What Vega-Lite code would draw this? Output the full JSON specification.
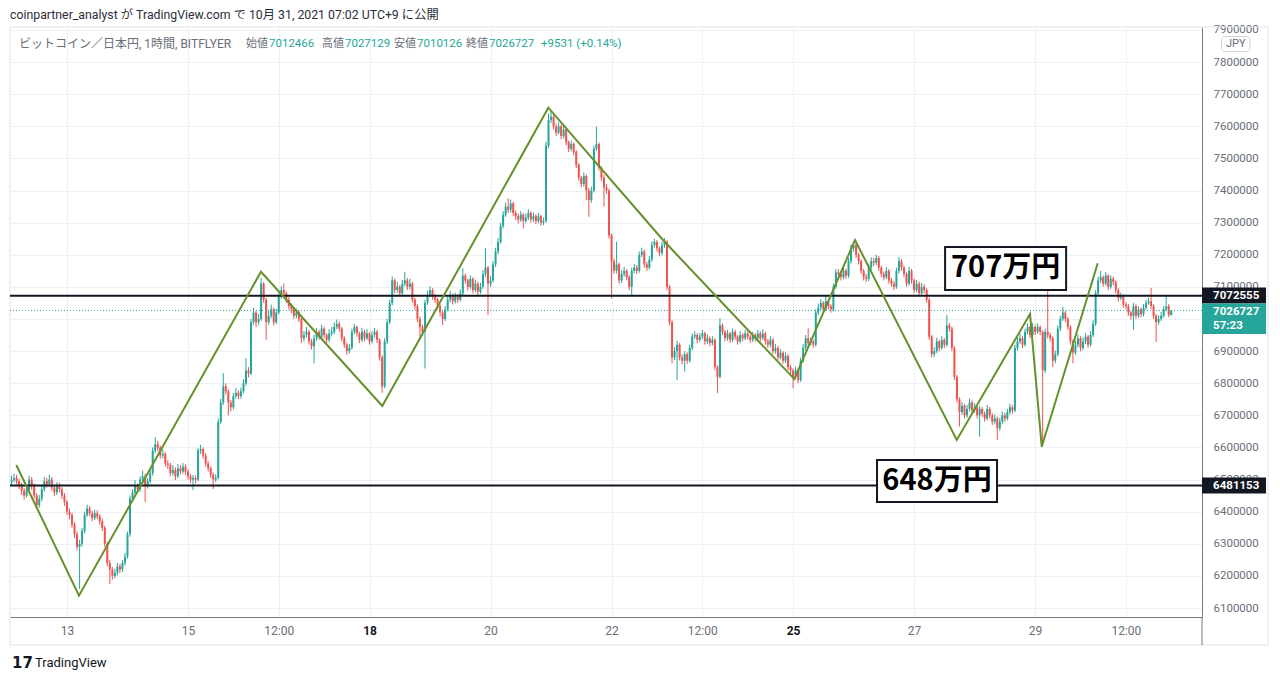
{
  "$schema": "https://vega.github.io/schema/vega-lite/v6.json",
  "width": 1192,
  "height": 590,
  "autosize": {"type": "none"},
  "padding": {"left": 10, "top": 27, "right": 78, "bottom": 64},
  "background": "#ffffff",
  "config": {"view": {"stroke": null}, "font": "Roboto, 'Noto Sans CJK JP', sans-serif"},
  "title": {"text": "coinpartner_analyst が TradingView.com で 10月 31, 2021 07:02 UTC+9 に公開", "anchor": "start", "frame": "group", "fontSize": 12.3, "fontWeight": "normal", "color": "#2a2e39", "offset": 3},
  "resolve": {"axis": {"x": "independent", "y": "independent"}},
  "datasets": {
    "candles": [
      {"t":-22,"o":6490000,"h":6512000,"l":6482000,"c":6500000},
      {"t":-21,"o":6500000,"h":6518000,"l":6492000,"c":6505000},
      {"t":-20,"o":6505000,"h":6515000,"l":6485000,"c":6495000},
      {"t":-19,"o":6495000,"h":6503000,"l":6470000,"c":6480000},
      {"t":-18,"o":6480000,"h":6490000,"l":6452000,"c":6465000},
      {"t":-17,"o":6465000,"h":6474000,"l":6438000,"c":6450000},
      {"t":-16,"o":6450000,"h":6482000,"l":6444000,"c":6470000},
      {"t":-15,"o":6470000,"h":6512000,"l":6462000,"c":6500000},
      {"t":-14,"o":6500000,"h":6508000,"l":6468000,"c":6480000},
      {"t":-13,"o":6480000,"h":6488000,"l":6440000,"c":6450000},
      {"t":-12,"o":6450000,"h":6458000,"l":6410000,"c":6420000},
      {"t":-11,"o":6420000,"h":6452000,"l":6412000,"c":6440000},
      {"t":-10,"o":6440000,"h":6480000,"l":6432000,"c":6470000},
      {"t":-9,"o":6470000,"h":6508000,"l":6462000,"c":6495000},
      {"t":-8,"o":6495000,"h":6505000,"l":6475000,"c":6485000},
      {"t":-7,"o":6485000,"h":6515000,"l":6478000,"c":6500000},
      {"t":-6,"o":6500000,"h":6508000,"l":6466000,"c":6475000},
      {"t":-5,"o":6475000,"h":6483000,"l":6448000,"c":6460000},
      {"t":-4,"o":6460000,"h":6492000,"l":6452000,"c":6480000},
      {"t":-3,"o":6480000,"h":6490000,"l":6460000,"c":6470000},
      {"t":-2,"o":6470000,"h":6476000,"l":6440000,"c":6450000},
      {"t":-1,"o":6450000,"h":6458000,"l":6418000,"c":6430000},
      {"t":0,"o":6430000,"h":6436000,"l":6390000,"c":6400000},
      {"t":1,"o":6400000,"h":6410000,"l":6376000,"c":6390000},
      {"t":2,"o":6390000,"h":6396000,"l":6350000,"c":6360000},
      {"t":3,"o":6360000,"h":6368000,"l":6318000,"c":6330000},
      {"t":4,"o":6330000,"h":6338000,"l":6280000,"c":6290000},
      {"t":5,"o":6290000,"h":6312000,"l":6160000,"c":6300000},
      {"t":6,"o":6300000,"h":6350000,"l":6292000,"c":6340000},
      {"t":7,"o":6340000,"h":6400000,"l":6332000,"c":6390000},
      {"t":8,"o":6390000,"h":6422000,"l":6384000,"c":6410000},
      {"t":9,"o":6410000,"h":6418000,"l":6386000,"c":6395000},
      {"t":10,"o":6395000,"h":6402000,"l":6370000,"c":6380000},
      {"t":11,"o":6380000,"h":6406000,"l":6374000,"c":6395000},
      {"t":12,"o":6395000,"h":6404000,"l":6376000,"c":6385000},
      {"t":13,"o":6385000,"h":6392000,"l":6360000,"c":6370000},
      {"t":14,"o":6370000,"h":6378000,"l":6340000,"c":6350000},
      {"t":15,"o":6350000,"h":6356000,"l":6290000,"c":6300000},
      {"t":16,"o":6300000,"h":6306000,"l":6230000,"c":6240000},
      {"t":17,"o":6240000,"h":6250000,"l":6175000,"c":6220000},
      {"t":18,"o":6220000,"h":6228000,"l":6188000,"c":6200000},
      {"t":19,"o":6200000,"h":6222000,"l":6192000,"c":6210000},
      {"t":20,"o":6210000,"h":6240000,"l":6202000,"c":6230000},
      {"t":21,"o":6230000,"h":6238000,"l":6208000,"c":6220000},
      {"t":22,"o":6220000,"h":6250000,"l":6212000,"c":6240000},
      {"t":23,"o":6240000,"h":6272000,"l":6232000,"c":6260000},
      {"t":24,"o":6260000,"h":6338000,"l":6254000,"c":6330000},
      {"t":25,"o":6330000,"h":6450000,"l":6322000,"c":6440000},
      {"t":26,"o":6440000,"h":6470000,"l":6432000,"c":6460000},
      {"t":27,"o":6460000,"h":6498000,"l":6452000,"c":6480000},
      {"t":28,"o":6480000,"h":6488000,"l":6460000,"c":6470000},
      {"t":29,"o":6470000,"h":6510000,"l":6462000,"c":6500000},
      {"t":30,"o":6500000,"h":6528000,"l":6492000,"c":6510000},
      {"t":31,"o":6510000,"h":6518000,"l":6430000,"c":6480000},
      {"t":32,"o":6480000,"h":6505000,"l":6472000,"c":6495000},
      {"t":33,"o":6495000,"h":6530000,"l":6488000,"c":6520000},
      {"t":34,"o":6520000,"h":6600000,"l":6512000,"c":6590000},
      {"t":35,"o":6590000,"h":6632000,"l":6582000,"c":6610000},
      {"t":36,"o":6610000,"h":6620000,"l":6588000,"c":6600000},
      {"t":37,"o":6600000,"h":6606000,"l":6565000,"c":6575000},
      {"t":38,"o":6575000,"h":6594000,"l":6566000,"c":6580000},
      {"t":39,"o":6580000,"h":6586000,"l":6540000,"c":6550000},
      {"t":40,"o":6550000,"h":6560000,"l":6532000,"c":6545000},
      {"t":41,"o":6545000,"h":6552000,"l":6510000,"c":6520000},
      {"t":42,"o":6520000,"h":6545000,"l":6512000,"c":6530000},
      {"t":43,"o":6530000,"h":6538000,"l":6498000,"c":6510000},
      {"t":44,"o":6510000,"h":6548000,"l":6504000,"c":6535000},
      {"t":45,"o":6535000,"h":6545000,"l":6515000,"c":6525000},
      {"t":46,"o":6525000,"h":6552000,"l":6518000,"c":6540000},
      {"t":47,"o":6540000,"h":6548000,"l":6515000,"c":6525000},
      {"t":48,"o":6525000,"h":6532000,"l":6500000,"c":6510000},
      {"t":49,"o":6510000,"h":6518000,"l":6490000,"c":6500000},
      {"t":50,"o":6500000,"h":6514000,"l":6467000,"c":6505000},
      {"t":51,"o":6505000,"h":6512000,"l":6488000,"c":6500000},
      {"t":52,"o":6500000,"h":6598000,"l":6495000,"c":6590000},
      {"t":53,"o":6590000,"h":6608000,"l":6580000,"c":6595000},
      {"t":54,"o":6595000,"h":6600000,"l":6565000,"c":6575000},
      {"t":55,"o":6575000,"h":6582000,"l":6540000,"c":6550000},
      {"t":56,"o":6550000,"h":6558000,"l":6525000,"c":6535000},
      {"t":57,"o":6535000,"h":6540000,"l":6505000,"c":6515000},
      {"t":58,"o":6515000,"h":6522000,"l":6470000,"c":6500000},
      {"t":59,"o":6500000,"h":6516000,"l":6492000,"c":6505000},
      {"t":60,"o":6505000,"h":6690000,"l":6500000,"c":6680000},
      {"t":61,"o":6680000,"h":6752000,"l":6672000,"c":6740000},
      {"t":62,"o":6740000,"h":6831000,"l":6732000,"c":6790000},
      {"t":63,"o":6790000,"h":6800000,"l":6765000,"c":6775000},
      {"t":64,"o":6775000,"h":6780000,"l":6700000,"c":6740000},
      {"t":65,"o":6740000,"h":6748000,"l":6712000,"c":6725000},
      {"t":66,"o":6725000,"h":6770000,"l":6718000,"c":6760000},
      {"t":67,"o":6760000,"h":6785000,"l":6752000,"c":6770000},
      {"t":68,"o":6770000,"h":6778000,"l":6750000,"c":6760000},
      {"t":69,"o":6760000,"h":6786000,"l":6752000,"c":6775000},
      {"t":70,"o":6775000,"h":6812000,"l":6768000,"c":6800000},
      {"t":71,"o":6800000,"h":6878000,"l":6792000,"c":6840000},
      {"t":72,"o":6840000,"h":6850000,"l":6818000,"c":6830000},
      {"t":73,"o":6830000,"h":7000000,"l":6825000,"c":6990000},
      {"t":74,"o":6990000,"h":7035000,"l":6982000,"c":7020000},
      {"t":75,"o":7020000,"h":7026000,"l":6975000,"c":6990000},
      {"t":76,"o":6990000,"h":7015000,"l":6982000,"c":7000000},
      {"t":77,"o":7000000,"h":7128000,"l":6995000,"c":7110000},
      {"t":78,"o":7110000,"h":7115000,"l":7050000,"c":7060000},
      {"t":79,"o":7060000,"h":7066000,"l":6935000,"c":6990000},
      {"t":80,"o":6990000,"h":7025000,"l":6982000,"c":7010000},
      {"t":81,"o":7010000,"h":7045000,"l":7002000,"c":7030000},
      {"t":82,"o":7030000,"h":7036000,"l":6980000,"c":6990000},
      {"t":83,"o":6990000,"h":7032000,"l":6984000,"c":7020000},
      {"t":84,"o":7020000,"h":7080000,"l":7014000,"c":7070000},
      {"t":85,"o":7070000,"h":7102000,"l":7062000,"c":7090000},
      {"t":86,"o":7090000,"h":7110000,"l":7070000,"c":7080000},
      {"t":87,"o":7080000,"h":7086000,"l":7050000,"c":7060000},
      {"t":88,"o":7060000,"h":7068000,"l":7030000,"c":7040000},
      {"t":89,"o":7040000,"h":7048000,"l":7018000,"c":7030000},
      {"t":90,"o":7030000,"h":7036000,"l":7000000,"c":7010000},
      {"t":91,"o":7010000,"h":7032000,"l":7002000,"c":7020000},
      {"t":92,"o":7020000,"h":7028000,"l":6990000,"c":7000000},
      {"t":93,"o":7000000,"h":7005000,"l":6925000,"c":6940000},
      {"t":94,"o":6940000,"h":6962000,"l":6930000,"c":6950000},
      {"t":95,"o":6950000,"h":6975000,"l":6942000,"c":6960000},
      {"t":96,"o":6960000,"h":6966000,"l":6920000,"c":6930000},
      {"t":97,"o":6930000,"h":6938000,"l":6905000,"c":6915000},
      {"t":98,"o":6915000,"h":6950000,"l":6862000,"c":6940000},
      {"t":99,"o":6940000,"h":6972000,"l":6932000,"c":6960000},
      {"t":100,"o":6960000,"h":6966000,"l":6935000,"c":6945000},
      {"t":101,"o":6945000,"h":6982000,"l":6938000,"c":6970000},
      {"t":102,"o":6970000,"h":6976000,"l":6940000,"c":6950000},
      {"t":103,"o":6950000,"h":6956000,"l":6925000,"c":6935000},
      {"t":104,"o":6935000,"h":6968000,"l":6928000,"c":6955000},
      {"t":105,"o":6955000,"h":6975000,"l":6946000,"c":6960000},
      {"t":106,"o":6960000,"h":6990000,"l":6952000,"c":6975000},
      {"t":107,"o":6975000,"h":6998000,"l":6968000,"c":6985000},
      {"t":108,"o":6985000,"h":6992000,"l":6960000,"c":6970000},
      {"t":109,"o":6970000,"h":6975000,"l":6930000,"c":6940000},
      {"t":110,"o":6940000,"h":6946000,"l":6910000,"c":6920000},
      {"t":111,"o":6920000,"h":6926000,"l":6888000,"c":6900000},
      {"t":112,"o":6900000,"h":6922000,"l":6892000,"c":6910000},
      {"t":113,"o":6910000,"h":6970000,"l":6904000,"c":6960000},
      {"t":114,"o":6960000,"h":6985000,"l":6952000,"c":6975000},
      {"t":115,"o":6975000,"h":6980000,"l":6945000,"c":6955000},
      {"t":116,"o":6955000,"h":6960000,"l":6925000,"c":6935000},
      {"t":117,"o":6935000,"h":6972000,"l":6928000,"c":6960000},
      {"t":118,"o":6960000,"h":6966000,"l":6930000,"c":6940000},
      {"t":119,"o":6940000,"h":6968000,"l":6934000,"c":6955000},
      {"t":120,"o":6955000,"h":6960000,"l":6920000,"c":6930000},
      {"t":121,"o":6930000,"h":6962000,"l":6924000,"c":6950000},
      {"t":122,"o":6950000,"h":6972000,"l":6942000,"c":6960000},
      {"t":123,"o":6960000,"h":6966000,"l":6925000,"c":6935000},
      {"t":124,"o":6935000,"h":6940000,"l":6870000,"c":6880000},
      {"t":125,"o":6880000,"h":6886000,"l":6770000,"c":6790000},
      {"t":126,"o":6790000,"h":6940000,"l":6784000,"c":6930000},
      {"t":127,"o":6930000,"h":7000000,"l":6922000,"c":6990000},
      {"t":128,"o":6990000,"h":7060000,"l":6984000,"c":7050000},
      {"t":129,"o":7050000,"h":7132000,"l":7042000,"c":7120000},
      {"t":130,"o":7120000,"h":7126000,"l":7080000,"c":7090000},
      {"t":131,"o":7090000,"h":7115000,"l":7082000,"c":7100000},
      {"t":132,"o":7100000,"h":7106000,"l":7070000,"c":7080000},
      {"t":133,"o":7080000,"h":7122000,"l":7074000,"c":7110000},
      {"t":134,"o":7110000,"h":7147000,"l":7102000,"c":7120000},
      {"t":135,"o":7120000,"h":7128000,"l":7090000,"c":7100000},
      {"t":136,"o":7100000,"h":7125000,"l":7092000,"c":7110000},
      {"t":137,"o":7110000,"h":7116000,"l":7050000,"c":7060000},
      {"t":138,"o":7060000,"h":7066000,"l":7030000,"c":7040000},
      {"t":139,"o":7040000,"h":7046000,"l":6990000,"c":7000000},
      {"t":140,"o":7000000,"h":7008000,"l":6935000,"c":6975000},
      {"t":141,"o":6975000,"h":6982000,"l":6950000,"c":6960000},
      {"t":142,"o":6960000,"h":7060000,"l":6846000,"c":7050000},
      {"t":143,"o":7050000,"h":7088000,"l":7044000,"c":7075000},
      {"t":144,"o":7075000,"h":7102000,"l":7068000,"c":7090000},
      {"t":145,"o":7090000,"h":7096000,"l":7060000,"c":7070000},
      {"t":146,"o":7070000,"h":7078000,"l":7050000,"c":7060000},
      {"t":147,"o":7060000,"h":7066000,"l":7030000,"c":7040000},
      {"t":148,"o":7040000,"h":7046000,"l":7008000,"c":7020000},
      {"t":149,"o":7020000,"h":7026000,"l":6981000,"c":7000000},
      {"t":150,"o":7000000,"h":7040000,"l":6994000,"c":7030000},
      {"t":151,"o":7030000,"h":7070000,"l":7024000,"c":7060000},
      {"t":152,"o":7060000,"h":7088000,"l":7052000,"c":7075000},
      {"t":153,"o":7075000,"h":7080000,"l":7045000,"c":7055000},
      {"t":154,"o":7055000,"h":7082000,"l":7048000,"c":7070000},
      {"t":155,"o":7070000,"h":7078000,"l":7050000,"c":7060000},
      {"t":156,"o":7060000,"h":7092000,"l":7054000,"c":7080000},
      {"t":157,"o":7080000,"h":7158000,"l":7074000,"c":7135000},
      {"t":158,"o":7135000,"h":7142000,"l":7110000,"c":7120000},
      {"t":159,"o":7120000,"h":7126000,"l":7088000,"c":7100000},
      {"t":160,"o":7100000,"h":7136000,"l":7094000,"c":7125000},
      {"t":161,"o":7125000,"h":7130000,"l":7080000,"c":7090000},
      {"t":162,"o":7090000,"h":7122000,"l":7084000,"c":7110000},
      {"t":163,"o":7110000,"h":7116000,"l":7075000,"c":7085000},
      {"t":164,"o":7085000,"h":7112000,"l":7078000,"c":7100000},
      {"t":165,"o":7100000,"h":7152000,"l":7094000,"c":7140000},
      {"t":166,"o":7140000,"h":7220000,"l":7132000,"c":7160000},
      {"t":167,"o":7160000,"h":7165000,"l":7012000,"c":7110000},
      {"t":168,"o":7110000,"h":7134000,"l":7100000,"c":7120000},
      {"t":169,"o":7120000,"h":7180000,"l":7114000,"c":7170000},
      {"t":170,"o":7170000,"h":7222000,"l":7162000,"c":7210000},
      {"t":171,"o":7210000,"h":7252000,"l":7202000,"c":7240000},
      {"t":172,"o":7240000,"h":7300000,"l":7234000,"c":7290000},
      {"t":173,"o":7290000,"h":7336000,"l":7282000,"c":7325000},
      {"t":174,"o":7325000,"h":7362000,"l":7318000,"c":7350000},
      {"t":175,"o":7350000,"h":7376000,"l":7330000,"c":7340000},
      {"t":176,"o":7340000,"h":7372000,"l":7332000,"c":7360000},
      {"t":177,"o":7360000,"h":7365000,"l":7320000,"c":7330000},
      {"t":178,"o":7330000,"h":7338000,"l":7308000,"c":7320000},
      {"t":179,"o":7320000,"h":7328000,"l":7298000,"c":7310000},
      {"t":180,"o":7310000,"h":7336000,"l":7302000,"c":7325000},
      {"t":181,"o":7325000,"h":7330000,"l":7282000,"c":7305000},
      {"t":182,"o":7305000,"h":7328000,"l":7298000,"c":7315000},
      {"t":183,"o":7315000,"h":7342000,"l":7308000,"c":7330000},
      {"t":184,"o":7330000,"h":7336000,"l":7300000,"c":7310000},
      {"t":185,"o":7310000,"h":7332000,"l":7302000,"c":7320000},
      {"t":186,"o":7320000,"h":7326000,"l":7295000,"c":7305000},
      {"t":187,"o":7305000,"h":7330000,"l":7298000,"c":7320000},
      {"t":188,"o":7320000,"h":7325000,"l":7290000,"c":7300000},
      {"t":189,"o":7300000,"h":7316000,"l":7292000,"c":7305000},
      {"t":190,"o":7305000,"h":7552000,"l":7300000,"c":7540000},
      {"t":191,"o":7540000,"h":7640000,"l":7532000,"c":7620000},
      {"t":192,"o":7620000,"h":7651000,"l":7610000,"c":7630000},
      {"t":193,"o":7630000,"h":7636000,"l":7590000,"c":7600000},
      {"t":194,"o":7600000,"h":7608000,"l":7570000,"c":7580000},
      {"t":195,"o":7580000,"h":7612000,"l":7574000,"c":7600000},
      {"t":196,"o":7600000,"h":7606000,"l":7560000,"c":7570000},
      {"t":197,"o":7570000,"h":7604000,"l":7562000,"c":7590000},
      {"t":198,"o":7590000,"h":7595000,"l":7540000,"c":7550000},
      {"t":199,"o":7550000,"h":7556000,"l":7520000,"c":7530000},
      {"t":200,"o":7530000,"h":7556000,"l":7522000,"c":7545000},
      {"t":201,"o":7545000,"h":7550000,"l":7510000,"c":7520000},
      {"t":202,"o":7520000,"h":7526000,"l":7470000,"c":7480000},
      {"t":203,"o":7480000,"h":7486000,"l":7430000,"c":7440000},
      {"t":204,"o":7440000,"h":7446000,"l":7410000,"c":7420000},
      {"t":205,"o":7420000,"h":7456000,"l":7412000,"c":7445000},
      {"t":206,"o":7445000,"h":7450000,"l":7370000,"c":7400000},
      {"t":207,"o":7400000,"h":7408000,"l":7318000,"c":7370000},
      {"t":208,"o":7370000,"h":7412000,"l":7362000,"c":7400000},
      {"t":209,"o":7400000,"h":7540000,"l":7394000,"c":7530000},
      {"t":210,"o":7530000,"h":7599000,"l":7524000,"c":7545000},
      {"t":211,"o":7545000,"h":7550000,"l":7462000,"c":7470000},
      {"t":212,"o":7470000,"h":7476000,"l":7430000,"c":7440000},
      {"t":213,"o":7440000,"h":7448000,"l":7350000,"c":7410000},
      {"t":214,"o":7410000,"h":7420000,"l":7390000,"c":7400000},
      {"t":215,"o":7400000,"h":7406000,"l":7250000,"c":7260000},
      {"t":216,"o":7260000,"h":7266000,"l":7064000,"c":7180000},
      {"t":217,"o":7180000,"h":7188000,"l":7140000,"c":7150000},
      {"t":218,"o":7150000,"h":7241000,"l":7142000,"c":7170000},
      {"t":219,"o":7170000,"h":7176000,"l":7110000,"c":7120000},
      {"t":220,"o":7120000,"h":7152000,"l":7112000,"c":7140000},
      {"t":221,"o":7140000,"h":7162000,"l":7132000,"c":7150000},
      {"t":222,"o":7150000,"h":7156000,"l":7120000,"c":7130000},
      {"t":223,"o":7130000,"h":7136000,"l":7090000,"c":7100000},
      {"t":224,"o":7100000,"h":7160000,"l":7075000,"c":7150000},
      {"t":225,"o":7150000,"h":7172000,"l":7142000,"c":7160000},
      {"t":226,"o":7160000,"h":7168000,"l":7140000,"c":7150000},
      {"t":227,"o":7150000,"h":7210000,"l":7144000,"c":7200000},
      {"t":228,"o":7200000,"h":7222000,"l":7192000,"c":7210000},
      {"t":229,"o":7210000,"h":7216000,"l":7160000,"c":7170000},
      {"t":230,"o":7170000,"h":7178000,"l":7150000,"c":7160000},
      {"t":231,"o":7160000,"h":7196000,"l":7154000,"c":7185000},
      {"t":232,"o":7185000,"h":7242000,"l":7178000,"c":7230000},
      {"t":233,"o":7230000,"h":7250000,"l":7222000,"c":7240000},
      {"t":234,"o":7240000,"h":7246000,"l":7210000,"c":7220000},
      {"t":235,"o":7220000,"h":7226000,"l":7195000,"c":7205000},
      {"t":236,"o":7205000,"h":7240000,"l":7198000,"c":7230000},
      {"t":237,"o":7230000,"h":7252000,"l":7222000,"c":7240000},
      {"t":238,"o":7240000,"h":7246000,"l":7090000,"c":7100000},
      {"t":239,"o":7100000,"h":7106000,"l":6980000,"c":6990000},
      {"t":240,"o":6990000,"h":6996000,"l":6862000,"c":6880000},
      {"t":241,"o":6880000,"h":6912000,"l":6872000,"c":6900000},
      {"t":242,"o":6900000,"h":6932000,"l":6810000,"c":6920000},
      {"t":243,"o":6920000,"h":6926000,"l":6870000,"c":6880000},
      {"t":244,"o":6880000,"h":6890000,"l":6858000,"c":6870000},
      {"t":245,"o":6870000,"h":6900000,"l":6836000,"c":6890000},
      {"t":246,"o":6890000,"h":6896000,"l":6860000,"c":6870000},
      {"t":247,"o":6870000,"h":6920000,"l":6864000,"c":6910000},
      {"t":248,"o":6910000,"h":6955000,"l":6902000,"c":6945000},
      {"t":249,"o":6945000,"h":6962000,"l":6938000,"c":6950000},
      {"t":250,"o":6950000,"h":6956000,"l":6925000,"c":6935000},
      {"t":251,"o":6935000,"h":6956000,"l":6928000,"c":6945000},
      {"t":252,"o":6945000,"h":6966000,"l":6938000,"c":6955000},
      {"t":253,"o":6955000,"h":6960000,"l":6920000,"c":6930000},
      {"t":254,"o":6930000,"h":6952000,"l":6922000,"c":6940000},
      {"t":255,"o":6940000,"h":6946000,"l":6915000,"c":6925000},
      {"t":256,"o":6925000,"h":6946000,"l":6918000,"c":6935000},
      {"t":257,"o":6935000,"h":6940000,"l":6840000,"c":6850000},
      {"t":258,"o":6850000,"h":6856000,"l":6769000,"c":6820000},
      {"t":259,"o":6820000,"h":7002000,"l":6815000,"c":6980000},
      {"t":260,"o":6980000,"h":6986000,"l":6950000,"c":6960000},
      {"t":261,"o":6960000,"h":6966000,"l":6930000,"c":6940000},
      {"t":262,"o":6940000,"h":6966000,"l":6932000,"c":6955000},
      {"t":263,"o":6955000,"h":6960000,"l":6925000,"c":6935000},
      {"t":264,"o":6935000,"h":6970000,"l":6928000,"c":6960000},
      {"t":265,"o":6960000,"h":6966000,"l":6935000,"c":6945000},
      {"t":266,"o":6945000,"h":6950000,"l":6920000,"c":6930000},
      {"t":267,"o":6930000,"h":6962000,"l":6924000,"c":6950000},
      {"t":268,"o":6950000,"h":6956000,"l":6930000,"c":6940000},
      {"t":269,"o":6940000,"h":6966000,"l":6934000,"c":6955000},
      {"t":270,"o":6955000,"h":6962000,"l":6936000,"c":6945000},
      {"t":271,"o":6945000,"h":6950000,"l":6925000,"c":6935000},
      {"t":272,"o":6935000,"h":6960000,"l":6928000,"c":6950000},
      {"t":273,"o":6950000,"h":6956000,"l":6930000,"c":6940000},
      {"t":274,"o":6940000,"h":6966000,"l":6934000,"c":6955000},
      {"t":275,"o":6955000,"h":6962000,"l":6930000,"c":6940000},
      {"t":276,"o":6940000,"h":6968000,"l":6934000,"c":6955000},
      {"t":277,"o":6955000,"h":6960000,"l":6920000,"c":6930000},
      {"t":278,"o":6930000,"h":6938000,"l":6910000,"c":6920000},
      {"t":279,"o":6920000,"h":6946000,"l":6912000,"c":6935000},
      {"t":280,"o":6935000,"h":6940000,"l":6890000,"c":6900000},
      {"t":281,"o":6900000,"h":6922000,"l":6892000,"c":6910000},
      {"t":282,"o":6910000,"h":6916000,"l":6870000,"c":6880000},
      {"t":283,"o":6880000,"h":6906000,"l":6874000,"c":6895000},
      {"t":284,"o":6895000,"h":6900000,"l":6860000,"c":6870000},
      {"t":285,"o":6870000,"h":6896000,"l":6862000,"c":6885000},
      {"t":286,"o":6885000,"h":6890000,"l":6840000,"c":6850000},
      {"t":287,"o":6850000,"h":6858000,"l":6828000,"c":6840000},
      {"t":288,"o":6840000,"h":6846000,"l":6784000,"c":6820000},
      {"t":289,"o":6820000,"h":6852000,"l":6812000,"c":6840000},
      {"t":290,"o":6840000,"h":6846000,"l":6800000,"c":6810000},
      {"t":291,"o":6810000,"h":6880000,"l":6804000,"c":6870000},
      {"t":292,"o":6870000,"h":6922000,"l":6864000,"c":6910000},
      {"t":293,"o":6910000,"h":6950000,"l":6902000,"c":6940000},
      {"t":294,"o":6940000,"h":6971000,"l":6915000,"c":6925000},
      {"t":295,"o":6925000,"h":6942000,"l":6918000,"c":6930000},
      {"t":296,"o":6930000,"h":6936000,"l":6910000,"c":6920000},
      {"t":297,"o":6920000,"h":7030000,"l":6914000,"c":7020000},
      {"t":298,"o":7020000,"h":7048000,"l":7012000,"c":7035000},
      {"t":299,"o":7035000,"h":7062000,"l":7028000,"c":7050000},
      {"t":300,"o":7050000,"h":7056000,"l":7020000,"c":7030000},
      {"t":301,"o":7030000,"h":7075000,"l":7024000,"c":7055000},
      {"t":302,"o":7055000,"h":7060000,"l":7030000,"c":7040000},
      {"t":303,"o":7040000,"h":7046000,"l":7020000,"c":7030000},
      {"t":304,"o":7030000,"h":7110000,"l":7024000,"c":7100000},
      {"t":305,"o":7100000,"h":7156000,"l":7094000,"c":7145000},
      {"t":306,"o":7145000,"h":7155000,"l":7130000,"c":7140000},
      {"t":307,"o":7140000,"h":7148000,"l":7120000,"c":7130000},
      {"t":308,"o":7130000,"h":7162000,"l":7124000,"c":7150000},
      {"t":309,"o":7150000,"h":7156000,"l":7125000,"c":7135000},
      {"t":310,"o":7135000,"h":7190000,"l":7128000,"c":7180000},
      {"t":311,"o":7180000,"h":7232000,"l":7172000,"c":7220000},
      {"t":312,"o":7220000,"h":7241000,"l":7210000,"c":7230000},
      {"t":313,"o":7230000,"h":7236000,"l":7190000,"c":7200000},
      {"t":314,"o":7200000,"h":7206000,"l":7170000,"c":7180000},
      {"t":315,"o":7180000,"h":7186000,"l":7140000,"c":7150000},
      {"t":316,"o":7150000,"h":7156000,"l":7120000,"c":7130000},
      {"t":317,"o":7130000,"h":7140000,"l":7115000,"c":7125000},
      {"t":318,"o":7125000,"h":7172000,"l":7118000,"c":7160000},
      {"t":319,"o":7160000,"h":7192000,"l":7152000,"c":7180000},
      {"t":320,"o":7180000,"h":7190000,"l":7165000,"c":7175000},
      {"t":321,"o":7175000,"h":7200000,"l":7168000,"c":7190000},
      {"t":322,"o":7190000,"h":7196000,"l":7150000,"c":7160000},
      {"t":323,"o":7160000,"h":7166000,"l":7130000,"c":7140000},
      {"t":324,"o":7140000,"h":7148000,"l":7120000,"c":7130000},
      {"t":325,"o":7130000,"h":7162000,"l":7124000,"c":7150000},
      {"t":326,"o":7150000,"h":7156000,"l":7110000,"c":7120000},
      {"t":327,"o":7120000,"h":7128000,"l":7100000,"c":7110000},
      {"t":328,"o":7110000,"h":7118000,"l":7090000,"c":7100000},
      {"t":329,"o":7100000,"h":7160000,"l":7094000,"c":7150000},
      {"t":330,"o":7150000,"h":7192000,"l":7142000,"c":7180000},
      {"t":331,"o":7180000,"h":7186000,"l":7150000,"c":7160000},
      {"t":332,"o":7160000,"h":7166000,"l":7130000,"c":7140000},
      {"t":333,"o":7140000,"h":7146000,"l":7100000,"c":7110000},
      {"t":334,"o":7110000,"h":7162000,"l":7104000,"c":7150000},
      {"t":335,"o":7150000,"h":7156000,"l":7110000,"c":7120000},
      {"t":336,"o":7120000,"h":7126000,"l":7080000,"c":7090000},
      {"t":337,"o":7090000,"h":7122000,"l":7084000,"c":7110000},
      {"t":338,"o":7110000,"h":7116000,"l":7070000,"c":7080000},
      {"t":339,"o":7080000,"h":7112000,"l":7074000,"c":7100000},
      {"t":340,"o":7100000,"h":7108000,"l":7080000,"c":7090000},
      {"t":341,"o":7090000,"h":7096000,"l":7050000,"c":7060000},
      {"t":342,"o":7060000,"h":7066000,"l":6935000,"c":6945000},
      {"t":343,"o":6945000,"h":6950000,"l":6880000,"c":6890000},
      {"t":344,"o":6890000,"h":6912000,"l":6882000,"c":6900000},
      {"t":345,"o":6900000,"h":6942000,"l":6894000,"c":6930000},
      {"t":346,"o":6930000,"h":6936000,"l":6900000,"c":6910000},
      {"t":347,"o":6910000,"h":6946000,"l":6904000,"c":6935000},
      {"t":348,"o":6935000,"h":6940000,"l":6910000,"c":6920000},
      {"t":349,"o":6920000,"h":7012000,"l":6914000,"c":6980000},
      {"t":350,"o":6980000,"h":6988000,"l":6960000,"c":6970000},
      {"t":351,"o":6970000,"h":6976000,"l":6900000,"c":6910000},
      {"t":352,"o":6910000,"h":6916000,"l":6810000,"c":6820000},
      {"t":353,"o":6820000,"h":6826000,"l":6740000,"c":6750000},
      {"t":354,"o":6750000,"h":6756000,"l":6665000,"c":6710000},
      {"t":355,"o":6710000,"h":6742000,"l":6702000,"c":6730000},
      {"t":356,"o":6730000,"h":6736000,"l":6690000,"c":6700000},
      {"t":357,"o":6700000,"h":6732000,"l":6692000,"c":6720000},
      {"t":358,"o":6720000,"h":6752000,"l":6712000,"c":6740000},
      {"t":359,"o":6740000,"h":6746000,"l":6705000,"c":6715000},
      {"t":360,"o":6715000,"h":6738000,"l":6708000,"c":6725000},
      {"t":361,"o":6725000,"h":6730000,"l":6690000,"c":6700000},
      {"t":362,"o":6700000,"h":6730000,"l":6633000,"c":6720000},
      {"t":363,"o":6720000,"h":6726000,"l":6695000,"c":6705000},
      {"t":364,"o":6705000,"h":6712000,"l":6680000,"c":6690000},
      {"t":365,"o":6690000,"h":6732000,"l":6684000,"c":6720000},
      {"t":366,"o":6720000,"h":6726000,"l":6690000,"c":6700000},
      {"t":367,"o":6700000,"h":6706000,"l":6670000,"c":6680000},
      {"t":368,"o":6680000,"h":6702000,"l":6672000,"c":6690000},
      {"t":369,"o":6690000,"h":6696000,"l":6623000,"c":6660000},
      {"t":370,"o":6660000,"h":6692000,"l":6652000,"c":6680000},
      {"t":371,"o":6680000,"h":6712000,"l":6672000,"c":6700000},
      {"t":372,"o":6700000,"h":6708000,"l":6680000,"c":6690000},
      {"t":373,"o":6690000,"h":6720000,"l":6684000,"c":6710000},
      {"t":374,"o":6710000,"h":6736000,"l":6702000,"c":6725000},
      {"t":375,"o":6725000,"h":6732000,"l":6705000,"c":6715000},
      {"t":376,"o":6715000,"h":6920000,"l":6710000,"c":6910000},
      {"t":377,"o":6910000,"h":6942000,"l":6902000,"c":6930000},
      {"t":378,"o":6930000,"h":6955000,"l":6922000,"c":6940000},
      {"t":379,"o":6940000,"h":6946000,"l":6910000,"c":6920000},
      {"t":380,"o":6920000,"h":6970000,"l":6914000,"c":6960000},
      {"t":381,"o":6960000,"h":6986000,"l":6952000,"c":6975000},
      {"t":382,"o":6975000,"h":6980000,"l":6940000,"c":6950000},
      {"t":383,"o":6950000,"h":6988000,"l":6944000,"c":6975000},
      {"t":384,"o":6975000,"h":6982000,"l":6950000,"c":6960000},
      {"t":385,"o":6960000,"h":6986000,"l":6954000,"c":6975000},
      {"t":386,"o":6975000,"h":6980000,"l":6950000,"c":6960000},
      {"t":387,"o":6960000,"h":6965000,"l":6620000,"c":6840000},
      {"t":388,"o":6840000,"h":6970000,"l":6832000,"c":6960000},
      {"t":389,"o":6960000,"h":7094000,"l":6940000,"c":6950000},
      {"t":390,"o":6950000,"h":6958000,"l":6930000,"c":6940000},
      {"t":391,"o":6940000,"h":6946000,"l":6851000,"c":6870000},
      {"t":392,"o":6870000,"h":6902000,"l":6862000,"c":6890000},
      {"t":393,"o":6890000,"h":6980000,"l":6884000,"c":6970000},
      {"t":394,"o":6970000,"h":7010000,"l":6962000,"c":7000000},
      {"t":395,"o":7000000,"h":7038000,"l":6994000,"c":7020000},
      {"t":396,"o":7020000,"h":7026000,"l":6990000,"c":7000000},
      {"t":397,"o":7000000,"h":7006000,"l":6965000,"c":6975000},
      {"t":398,"o":6975000,"h":6980000,"l":6920000,"c":6930000},
      {"t":399,"o":6930000,"h":6936000,"l":6862000,"c":6895000},
      {"t":400,"o":6895000,"h":6932000,"l":6888000,"c":6920000},
      {"t":401,"o":6920000,"h":6952000,"l":6912000,"c":6940000},
      {"t":402,"o":6940000,"h":6946000,"l":6900000,"c":6910000},
      {"t":403,"o":6910000,"h":6942000,"l":6904000,"c":6930000},
      {"t":404,"o":6930000,"h":6956000,"l":6922000,"c":6945000},
      {"t":405,"o":6945000,"h":6950000,"l":6910000,"c":6920000},
      {"t":406,"o":6920000,"h":6962000,"l":6914000,"c":6950000},
      {"t":407,"o":6950000,"h":6996000,"l":6944000,"c":6985000},
      {"t":408,"o":6985000,"h":7090000,"l":6978000,"c":7080000},
      {"t":409,"o":7080000,"h":7132000,"l":7072000,"c":7120000},
      {"t":410,"o":7120000,"h":7150000,"l":7112000,"c":7130000},
      {"t":411,"o":7130000,"h":7136000,"l":7100000,"c":7110000},
      {"t":412,"o":7110000,"h":7146000,"l":7104000,"c":7135000},
      {"t":413,"o":7135000,"h":7140000,"l":7090000,"c":7100000},
      {"t":414,"o":7100000,"h":7136000,"l":7094000,"c":7125000},
      {"t":415,"o":7125000,"h":7132000,"l":7105000,"c":7115000},
      {"t":416,"o":7115000,"h":7120000,"l":7080000,"c":7090000},
      {"t":417,"o":7090000,"h":7096000,"l":7055000,"c":7065000},
      {"t":418,"o":7065000,"h":7082000,"l":7058000,"c":7070000},
      {"t":419,"o":7070000,"h":7076000,"l":7035000,"c":7045000},
      {"t":420,"o":7045000,"h":7052000,"l":7030000,"c":7040000},
      {"t":421,"o":7040000,"h":7046000,"l":7010000,"c":7020000},
      {"t":422,"o":7020000,"h":7026000,"l":6998000,"c":7010000},
      {"t":423,"o":7010000,"h":7050000,"l":6966000,"c":7040000},
      {"t":424,"o":7040000,"h":7046000,"l":7000000,"c":7010000},
      {"t":425,"o":7010000,"h":7040000,"l":7004000,"c":7030000},
      {"t":426,"o":7030000,"h":7036000,"l":7005000,"c":7015000},
      {"t":427,"o":7015000,"h":7046000,"l":7008000,"c":7035000},
      {"t":428,"o":7035000,"h":7060000,"l":7028000,"c":7050000},
      {"t":429,"o":7050000,"h":7066000,"l":7044000,"c":7055000},
      {"t":430,"o":7055000,"h":7097000,"l":7030000,"c":7040000},
      {"t":431,"o":7040000,"h":7046000,"l":7000000,"c":7010000},
      {"t":432,"o":7010000,"h":7016000,"l":6929000,"c":6990000},
      {"t":433,"o":6990000,"h":7012000,"l":6982000,"c":7000000},
      {"t":434,"o":7000000,"h":7022000,"l":6994000,"c":7010000},
      {"t":435,"o":7010000,"h":7040000,"l":7004000,"c":7030000},
      {"t":436,"o":7030000,"h":7072000,"l":7024000,"c":7040000},
      {"t":437,"o":7040000,"h":7046000,"l":7005000,"c":7012466},
      {"t":438,"o":7012466,"h":7027129,"l":7010126,"c":7026727}
    ],
    "zigzag": [
      {"t":-20.11,"p":6545300},
      {"t":4.76,"p":6138300},
      {"t":76.95,"p":7147200},
      {"t":125.07,"p":6729000},
      {"t":190.92,"p":7657900},
      {"t":236.41,"p":7245900},
      {"t":288.5,"p":6812900},
      {"t":312.57,"p":7245900},
      {"t":352.92,"p":6623200},
      {"t":381.99,"p":7015500},
      {"t":386.63,"p":6602300},
      {"t":408.84,"p":7173400}
    ],
    "levels": [{"p":7072555},{"p":6481153}],
    "one": [{"n":1}]
  },
  "layer": [
    {
      "data": {"name": "candles"},
      "mark": {"type": "rule", "strokeWidth": 1},
      "encoding": {
        "x": {"field": "t", "type": "quantitative",
          "scale": {"domain": [-22.6, 450.2], "nice": false, "zero": false, "padding": 0},
          "axis": {"title": null, "values": [0,48,84,120,168,216,252,288,336,384,420],
            "labelExpr": "datum.value == 0 ? '13' : datum.value == 48 ? '15' : datum.value == 120 ? '18' : datum.value == 168 ? '20' : datum.value == 216 ? '22' : datum.value == 288 ? '25' : datum.value == 336 ? '27' : datum.value == 384 ? '29' : '12:00'",
            "grid": true, "gridColor": "#edf0f5", "ticks": false,
            "domainColor": "#787b86", "labelFontSize": 12, "labelPadding": 8,
            "labelFlush": false, "labelOverlap": false,
            "labelColor": {"condition": {"test": "datum.value == 120 || datum.value == 288", "value": "#131722"}, "value": "#6a6d78"},
            "labelFontWeight": {"condition": {"test": "datum.value == 120 || datum.value == 288", "value": "bold"}, "value": "normal"}}},
        "y": {"field": "l", "type": "quantitative",
          "scale": {"domain": [6072000, 7909200], "nice": false, "zero": false, "padding": 0},
          "axis": {"title": null, "orient": "right",
            "values": [6100000,6200000,6300000,6400000,6500000,6600000,6700000,6800000,6900000,7000000,7100000,7200000,7300000,7400000,7500000,7600000,7700000,7800000,7900000],
            "format": "d", "labelExpr": "datum.value == 7000000 ? '' : datum.label",
            "grid": true, "gridColor": "#edf0f5", "ticks": false,
            "domainColor": "#787b86", "labelFontSize": 11.5, "labelPadding": 11,
            "labelColor": "#6a6d78", "labelFlush": false, "labelOverlap": false}},
        "y2": {"field": "h"},
        "color": {"condition": {"test": "datum.c >= datum.o", "value": "#26a69a"}, "value": "#ef5350"}
      }
    },
    {
      "data": {"name": "candles"},
      "mark": {"type": "bar", "width": 2},
      "encoding": {
        "x": {"field": "t", "type": "quantitative", "axis": null},
        "y": {"field": "o", "type": "quantitative", "axis": null},
        "y2": {"field": "c"},
        "color": {"condition": {"test": "datum.c >= datum.o", "value": "#26a69a"}, "value": "#ef5350"}
      }
    },
    {
      "data": {"name": "one"},
      "mark": {"type": "rect", "fill": "transparent", "stroke": "#e0e3eb", "strokeWidth": 1},
      "encoding": {
        "x": {"datum": -22.6, "type": "quantitative", "axis": null},
        "x2": {"datum": 476.4},
        "y": {"datum": 7909200, "type": "quantitative", "axis": null},
        "y2": {"datum": 5984800}
      }
    },
    {
      "data": {"name": "one"},
      "mark": {"type": "rule", "color": "#787b86", "strokeWidth": 1},
      "encoding": {
        "x": {"datum": 450.2, "type": "quantitative", "axis": null},
        "y": {"datum": 6072000, "type": "quantitative", "axis": null},
        "y2": {"datum": 5984800}
      }
    },
    {
      "data": {"name": "one"},
      "mark": {"type": "rule", "color": "#26a69a", "strokeWidth": 1, "strokeDash": [1, 2]},
      "encoding": {
        "y": {"datum": 7026727, "type": "quantitative", "axis": null}
      }
    },
    {
      "data": {"name": "levels"},
      "mark": {"type": "rule", "color": "#131722", "strokeWidth": 2},
      "encoding": {
        "y": {"field": "p", "type": "quantitative", "axis": null}
      }
    },
    {
      "data": {"name": "zigzag"},
      "mark": {"type": "line", "color": "#66902a", "strokeWidth": 2},
      "encoding": {
        "x": {"field": "t", "type": "quantitative", "axis": null},
        "y": {"field": "p", "type": "quantitative", "axis": null}
      }
    },
    {
      "data": {"name": "one"},
      "mark": {"type": "rect", "fill": "#ffffff", "stroke": "#131722", "strokeWidth": 2},
      "encoding": {
        "x": {"datum": 348.3, "type": "quantitative", "axis": null},
        "x2": {"datum": 396.3},
        "y": {"datum": 7224200, "type": "quantitative", "axis": null},
        "y2": {"datum": 7090300}
      }
    },
    {
      "data": {"name": "one"},
      "mark": {"type": "text", "font": "Noto Sans CJK JP", "fontWeight": "bold", "fontSize": 29, "color": "#000000", "align": "center", "baseline": "middle"},
      "encoding": {
        "x": {"datum": 372.3, "type": "quantitative", "axis": null},
        "y": {"datum": 7157200, "type": "quantitative", "axis": null},
        "text": {"value": "707万円"}
      }
    },
    {
      "data": {"name": "one"},
      "mark": {"type": "rect", "fill": "#ffffff", "stroke": "#131722", "strokeWidth": 2},
      "encoding": {
        "x": {"datum": 321.3, "type": "quantitative", "axis": null},
        "x2": {"datum": 368.9},
        "y": {"datum": 6560900, "type": "quantitative", "axis": null},
        "y2": {"datum": 6430100}
      }
    },
    {
      "data": {"name": "one"},
      "mark": {"type": "text", "font": "Noto Sans CJK JP", "fontWeight": "bold", "fontSize": 29, "color": "#000000", "align": "center", "baseline": "middle"},
      "encoding": {
        "x": {"datum": 345.1, "type": "quantitative", "axis": null},
        "y": {"datum": 6495500, "type": "quantitative", "axis": null},
        "text": {"value": "648万円"}
      }
    },
    {
      "data": {"name": "one"},
      "mark": {"type": "rect", "fill": "#131722"},
      "encoding": {
        "x": {"datum": 450.2, "type": "quantitative", "axis": null},
        "x2": {"datum": 475.6},
        "y": {"datum": 7098000, "type": "quantitative", "axis": null},
        "y2": {"datum": 7048200}
      }
    },
    {
      "data": {"name": "one"},
      "mark": {"type": "text", "fontSize": 11.5, "fontWeight": "bold", "color": "#ffffff", "align": "left", "baseline": "middle"},
      "encoding": {
        "x": {"datum": 454.6, "type": "quantitative", "axis": null},
        "y": {"datum": 7072555, "type": "quantitative", "axis": null},
        "text": {"value": "7072555"}
      }
    },
    {
      "data": {"name": "one"},
      "mark": {"type": "rect", "fill": "#26a69a"},
      "encoding": {
        "x": {"datum": 450.2, "type": "quantitative", "axis": null},
        "x2": {"datum": 475.6},
        "y": {"datum": 7048200, "type": "quantitative", "axis": null},
        "y2": {"datum": 6953200}
      }
    },
    {
      "data": {"name": "one"},
      "mark": {"type": "text", "fontSize": 11.5, "fontWeight": "bold", "color": "#ffffff", "align": "left", "baseline": "middle"},
      "encoding": {
        "x": {"datum": 454.6, "type": "quantitative", "axis": null},
        "y": {"datum": 7023000, "type": "quantitative", "axis": null},
        "text": {"value": "7026727"}
      }
    },
    {
      "data": {"name": "one"},
      "mark": {"type": "text", "fontSize": 11.5, "fontWeight": "bold", "color": "#ffffff", "align": "left", "baseline": "middle"},
      "encoding": {
        "x": {"datum": 454.6, "type": "quantitative", "axis": null},
        "y": {"datum": 6978000, "type": "quantitative", "axis": null},
        "text": {"value": "57:23"}
      }
    },
    {
      "data": {"name": "one"},
      "mark": {"type": "rect", "fill": "#131722"},
      "encoding": {
        "x": {"datum": 450.2, "type": "quantitative", "axis": null},
        "x2": {"datum": 475.6},
        "y": {"datum": 6506100, "type": "quantitative", "axis": null},
        "y2": {"datum": 6456300}
      }
    },
    {
      "data": {"name": "one"},
      "mark": {"type": "text", "fontSize": 11.5, "fontWeight": "bold", "color": "#ffffff", "align": "left", "baseline": "middle"},
      "encoding": {
        "x": {"datum": 454.6, "type": "quantitative", "axis": null},
        "y": {"datum": 6481153, "type": "quantitative", "axis": null},
        "text": {"value": "6481153"}
      }
    },
    {
      "data": {"name": "one"},
      "mark": {"type": "rect", "fill": "#ffffff", "stroke": "#d1d4dc", "strokeWidth": 1, "cornerRadius": 3},
      "encoding": {
        "x": {"datum": 458.0, "type": "quantitative", "axis": null},
        "x2": {"datum": 469.2},
        "y": {"datum": 7879600, "type": "quantitative", "axis": null},
        "y2": {"datum": 7832900}
      }
    },
    {
      "data": {"name": "one"},
      "mark": {"type": "text", "fontSize": 11, "color": "#6a6d78", "align": "center", "baseline": "middle"},
      "encoding": {
        "x": {"datum": 463.6, "type": "quantitative", "axis": null},
        "y": {"datum": 7856000, "type": "quantitative", "axis": null},
        "text": {"value": "JPY"}
      }
    },
    {
      "data": {"name": "one"},
      "mark": {"type": "text", "fontSize": 12, "color": "#6a6d78", "align": "left", "baseline": "middle"},
      "encoding": {
        "x": {"datum": -19.04, "type": "quantitative", "axis": null},
        "y": {"datum": 7856000, "type": "quantitative", "axis": null},
        "text": {"value": "ビットコイン／日本円, 1時間, BITFLYER"}
      }
    },
    {
      "data": {"name": "one"},
      "mark": {"type": "text", "fontSize": 11, "color": "#6a6d78", "align": "left", "baseline": "middle"},
      "encoding": {
        "x": {"datum": 71.0, "type": "quantitative", "axis": null},
        "y": {"datum": 7856000, "type": "quantitative", "axis": null},
        "text": {"value": "始値"}
      }
    },
    {
      "data": {"name": "one"},
      "mark": {"type": "text", "fontSize": 11.5, "color": "#26a69a", "align": "left", "baseline": "middle"},
      "encoding": {
        "x": {"datum": 80.13, "type": "quantitative", "axis": null},
        "y": {"datum": 7856000, "type": "quantitative", "axis": null},
        "text": {"value": "7012466"}
      }
    },
    {
      "data": {"name": "one"},
      "mark": {"type": "text", "fontSize": 11, "color": "#6a6d78", "align": "left", "baseline": "middle"},
      "encoding": {
        "x": {"datum": 101.15, "type": "quantitative", "axis": null},
        "y": {"datum": 7856000, "type": "quantitative", "axis": null},
        "text": {"value": "高値"}
      }
    },
    {
      "data": {"name": "one"},
      "mark": {"type": "text", "fontSize": 11.5, "color": "#26a69a", "align": "left", "baseline": "middle"},
      "encoding": {
        "x": {"datum": 110.27, "type": "quantitative", "axis": null},
        "y": {"datum": 7856000, "type": "quantitative", "axis": null},
        "text": {"value": "7027129"}
      }
    },
    {
      "data": {"name": "one"},
      "mark": {"type": "text", "fontSize": 11, "color": "#6a6d78", "align": "left", "baseline": "middle"},
      "encoding": {
        "x": {"datum": 129.71, "type": "quantitative", "axis": null},
        "y": {"datum": 7856000, "type": "quantitative", "axis": null},
        "text": {"value": "安値"}
      }
    },
    {
      "data": {"name": "one"},
      "mark": {"type": "text", "fontSize": 11.5, "color": "#26a69a", "align": "left", "baseline": "middle"},
      "encoding": {
        "x": {"datum": 138.83, "type": "quantitative", "axis": null},
        "y": {"datum": 7856000, "type": "quantitative", "axis": null},
        "text": {"value": "7010126"}
      }
    },
    {
      "data": {"name": "one"},
      "mark": {"type": "text", "fontSize": 11, "color": "#6a6d78", "align": "left", "baseline": "middle"},
      "encoding": {
        "x": {"datum": 158.27, "type": "quantitative", "axis": null},
        "y": {"datum": 7856000, "type": "quantitative", "axis": null},
        "text": {"value": "終値"}
      }
    },
    {
      "data": {"name": "one"},
      "mark": {"type": "text", "fontSize": 11.5, "color": "#26a69a", "align": "left", "baseline": "middle"},
      "encoding": {
        "x": {"datum": 167.39, "type": "quantitative", "axis": null},
        "y": {"datum": 7856000, "type": "quantitative", "axis": null},
        "text": {"value": "7026727"}
      }
    },
    {
      "data": {"name": "one"},
      "mark": {"type": "text", "fontSize": 11.5, "color": "#26a69a", "align": "left", "baseline": "middle"},
      "encoding": {
        "x": {"datum": 188.02, "type": "quantitative", "axis": null},
        "y": {"datum": 7856000, "type": "quantitative", "axis": null},
        "text": {"value": "+9531 (+0.14%)"}
      }
    },
    {
      "data": {"name": "one"},
      "mark": {"type": "text", "font": "DejaVu Sans", "fontSize": 15, "fontWeight": "bold", "color": "#131722", "align": "left", "baseline": "middle"},
      "encoding": {
        "x": {"datum": -21.8, "type": "quantitative", "axis": null},
        "y": {"datum": 5928700, "type": "quantitative", "axis": null},
        "text": {"value": "17"}
      }
    },
    {
      "data": {"name": "one"},
      "mark": {"type": "text", "fontSize": 13, "color": "#131722", "align": "left", "baseline": "middle"},
      "encoding": {
        "x": {"datum": -12.69, "type": "quantitative", "axis": null},
        "y": {"datum": 5928700, "type": "quantitative", "axis": null},
        "text": {"value": "TradingView"}
      }
    }
  ]
}
